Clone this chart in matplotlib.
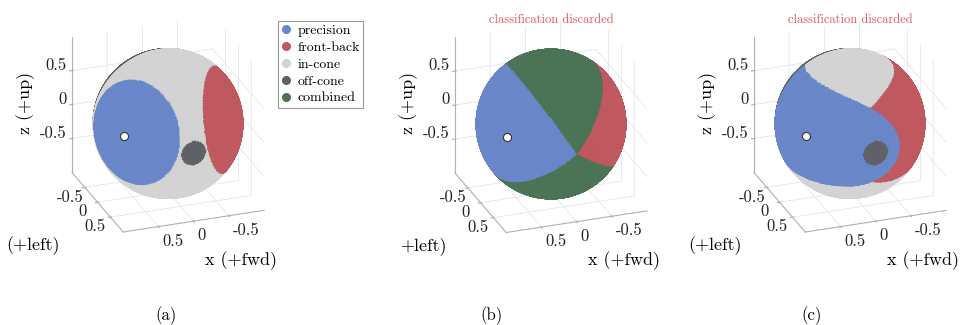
import numpy as np
import matplotlib.pyplot as plt
from matplotlib.colors import to_rgba
from matplotlib.lines import Line2D
from mpl_toolkits.mplot3d import proj3d

plt.rcParams['font.family'] = ['cmr10', 'DejaVu Serif']
plt.rcParams['mathtext.fontset'] = 'cm'
plt.rcParams['axes.unicode_minus'] = False
plt.rcParams['grid.color'] = '#e6e6e6'
plt.rcParams['grid.linewidth'] = 0.6

# target direction, interaural-polar coordinates (deg)
target_lat = 32.5
target_pol = 12.5

labels = ['precision', 'front-back', 'in-cone', 'off-cone', 'combined']
colors = ['#6a88c9', '#c0585f', '#d3d3d3', '#606166', '#4a7455']

# lateral band counted as in-cone
cone_lat = [-20.5, 80.0]
# (a) great-circle radius around target / mirrored target
radius_a = [45.0, 46.0]
# (b) polar angle ranges for precision and front-back
polar_b_prec = [-37.0, 58.0]
polar_b_fb = [129.0, 215.0]
# (c) polar error limits for precision and front-back
polar_c = [42.0, 43.0]

ticks = [-0.5, 0, 0.5]
tick_labels = ['-0.5', '0', '0.5']
panel_names = ['(a)', '(b)', '(c)']
discarded = [False, True, True]

W, H = 969, 325
centres = [(168, 123.5), (551, 124), (850, 123.5)]


def unit(lat, pol):
    lat, pol = np.radians(lat), np.radians(pol)
    return np.array([np.cos(lat) * np.cos(pol), np.sin(lat), np.cos(lat) * np.sin(pol)])


# sphere mesh
n_u, n_v = 421, 211
uu = np.linspace(0, 2 * np.pi, n_u)
vv = np.linspace(0, np.pi, n_v)
X = np.outer(np.cos(uu), np.sin(vv))
Y = np.outer(np.sin(uu), np.sin(vv))
Z = np.outer(np.ones(n_u), np.cos(vv))

# face centres
uc = (uu[:-1] + uu[1:]) / 2
vc = (vv[:-1] + vv[1:]) / 2
xc = np.outer(np.cos(uc), np.sin(vc))
yc = np.outer(np.sin(uc), np.sin(vc))
zc = np.outer(np.ones(n_u - 1), np.cos(vc))

lat = np.degrees(np.arcsin(np.clip(yc, -1, 1)))
pol = np.degrees(np.arctan2(zc, xc))

t = unit(target_lat, target_pol)
m = unit(target_lat, 180 - target_pol)
ang_t = np.degrees(np.arccos(np.clip(xc * t[0] + yc * t[1] + zc * t[2], -1, 1)))
ang_m = np.degrees(np.arccos(np.clip(xc * m[0] + yc * m[1] + zc * m[2], -1, 1)))


def polar_err(p0):
    s = np.abs(np.sin(np.radians(pol - p0) / 2)) * np.cos(np.radians(lat))
    return 2 * np.degrees(np.arcsin(s))


def in_range(lo, hi):
    return (pol - lo) % 360 <= (hi - lo)


off = (lat < cone_lat[0]) | (lat > cone_lat[1])

cls_a = np.full(lat.shape, 2)
cls_a[off] = 3
cls_a[ang_m < radius_a[1]] = 1
cls_a[ang_t < radius_a[0]] = 0

cls_b = np.full(lat.shape, 4)
cls_b[in_range(*polar_b_fb)] = 1
cls_b[in_range(*polar_b_prec)] = 0

cls_c = np.full(lat.shape, 2)
cls_c[polar_err(180 - target_pol) < polar_c[1]] = 1
cls_c[polar_err(target_pol) < polar_c[0]] = 0
cls_c[off] = 3

rgba = np.array([to_rgba(c) for c in colors])

fig = plt.figure(figsize=(W / 100, H / 100), dpi=100)
S = 252


def px_text(px, py, s, **kw):
    fig.text(px / W, py / H, s, **kw)


for k, cls in enumerate([cls_a, cls_b, cls_c]):
    cx, cy = centres[k]
    left = (cx - 0.5135 * S) / W
    bottom = (H - cy - 0.5135 * S) / H
    ax = fig.add_axes([left, bottom, S / W, S / H], projection='3d',
                      computed_zorder=False)
    ax.patch.set_alpha(0)

    fc = np.ones((n_u, n_v, 4))
    fc[:-1, :-1] = rgba[cls]
    ax.plot_surface(X, Y, Z, facecolors=fc, rstride=1, cstride=1, shade=False,
                    linewidth=0.6, antialiased=True, zorder=1)
    ax.scatter([t[0]], [t[1]], [t[2]], s=34, c='white', edgecolors='#333333',
               linewidths=0.8, depthshade=False, zorder=5)

    ax.set_proj_type('ortho')
    ax.view_init(elev=25, azim=70)
    ax.set_xlim(-1, 1)
    ax.set_ylim(-1, 1)
    ax.set_zlim(-1, 1)
    ax.set_box_aspect((1, 1, 1))
    ax.set_xticks(ticks)
    ax.set_yticks(ticks)
    ax.set_zticks(ticks)
    ax.set_xticklabels([''] * len(ticks))
    ax.set_yticklabels([''] * len(ticks))
    ax.set_zticklabels([''] * len(ticks))
    ax.tick_params(axis='both', colors='#b0b0b0')
    for axis in (ax.xaxis, ax.yaxis, ax.zaxis):
        axis.set_pane_color((1, 1, 1, 0))
        axis.pane.set_edgecolor((1, 1, 1, 0))
        axis.line.set_color('#b0b0b0')
        axis.line.set_linewidth(0.8)

    # tick labels placed next to the projected tick positions
    ax.apply_aspect()
    M = ax.get_proj()

    def to_px(x, y, z):
        xs, ys, _ = proj3d.proj_transform(np.atleast_1d(float(x)), np.atleast_1d(float(y)),
                                          np.atleast_1d(float(z)), M)
        return ax.transData.transform((xs[0], ys[0]))

    for tv, tl in zip(ticks, tick_labels):
        p = to_px(1, -1, tv)
        px_text(p[0] - 5, p[1] + 5.5, tl, ha='right', va='center', fontsize=12, color='#222222')
        p = to_px(1, tv, -1)
        px_text(p[0] - 15, p[1] - 9.5, tl, ha='center', va='center', fontsize=12, color='#222222')
        p = to_px(tv, 1, -1)
        px_text(p[0] + 3.7, p[1] - 14.4, tl, ha='left', va='center', fontsize=12, color='#222222')

    px_text(cx - 142, H - 103, 'z (+up)', rotation=90, ha='center', va='center', fontsize=13)
    px_text(cx + 73, H - 261, 'x (+fwd)', ha='center', va='center', fontsize=13)
    if k == 1:
        px_text(400, H - 246, '+left)', ha='left', va='center', fontsize=13)
    else:
        px_text(cx - 135, H - 246, '(+left)', ha='center', va='center', fontsize=13)
    if discarded[k]:
        px_text(cx, H - 20, 'classification discarded', ha='center', va='center',
                fontsize=9, color='#e35555')

px_text(166, H - 316, panel_names[0], ha='center', va='center', fontsize=12)
px_text(492, H - 316, panel_names[1], ha='center', va='center', fontsize=12)
px_text(812, H - 316, panel_names[2], ha='center', va='center', fontsize=12)

handles = [Line2D([], [], ls='none', marker='o', ms=5.5, mfc=c, mec=c) for c in colors]
leg = fig.legend(handles, labels, loc='upper left', bbox_to_anchor=(278 / W, 1 - 20.7 / H),
                 fontsize=10, frameon=True, fancybox=False, edgecolor='#9a9a9a',
                 framealpha=1, borderpad=0.25, handlelength=0.7, handletextpad=0.45,
                 labelspacing=0.3, borderaxespad=0)
leg.get_frame().set_linewidth(0.8)

plt.savefig('out.png', dpi=100)
